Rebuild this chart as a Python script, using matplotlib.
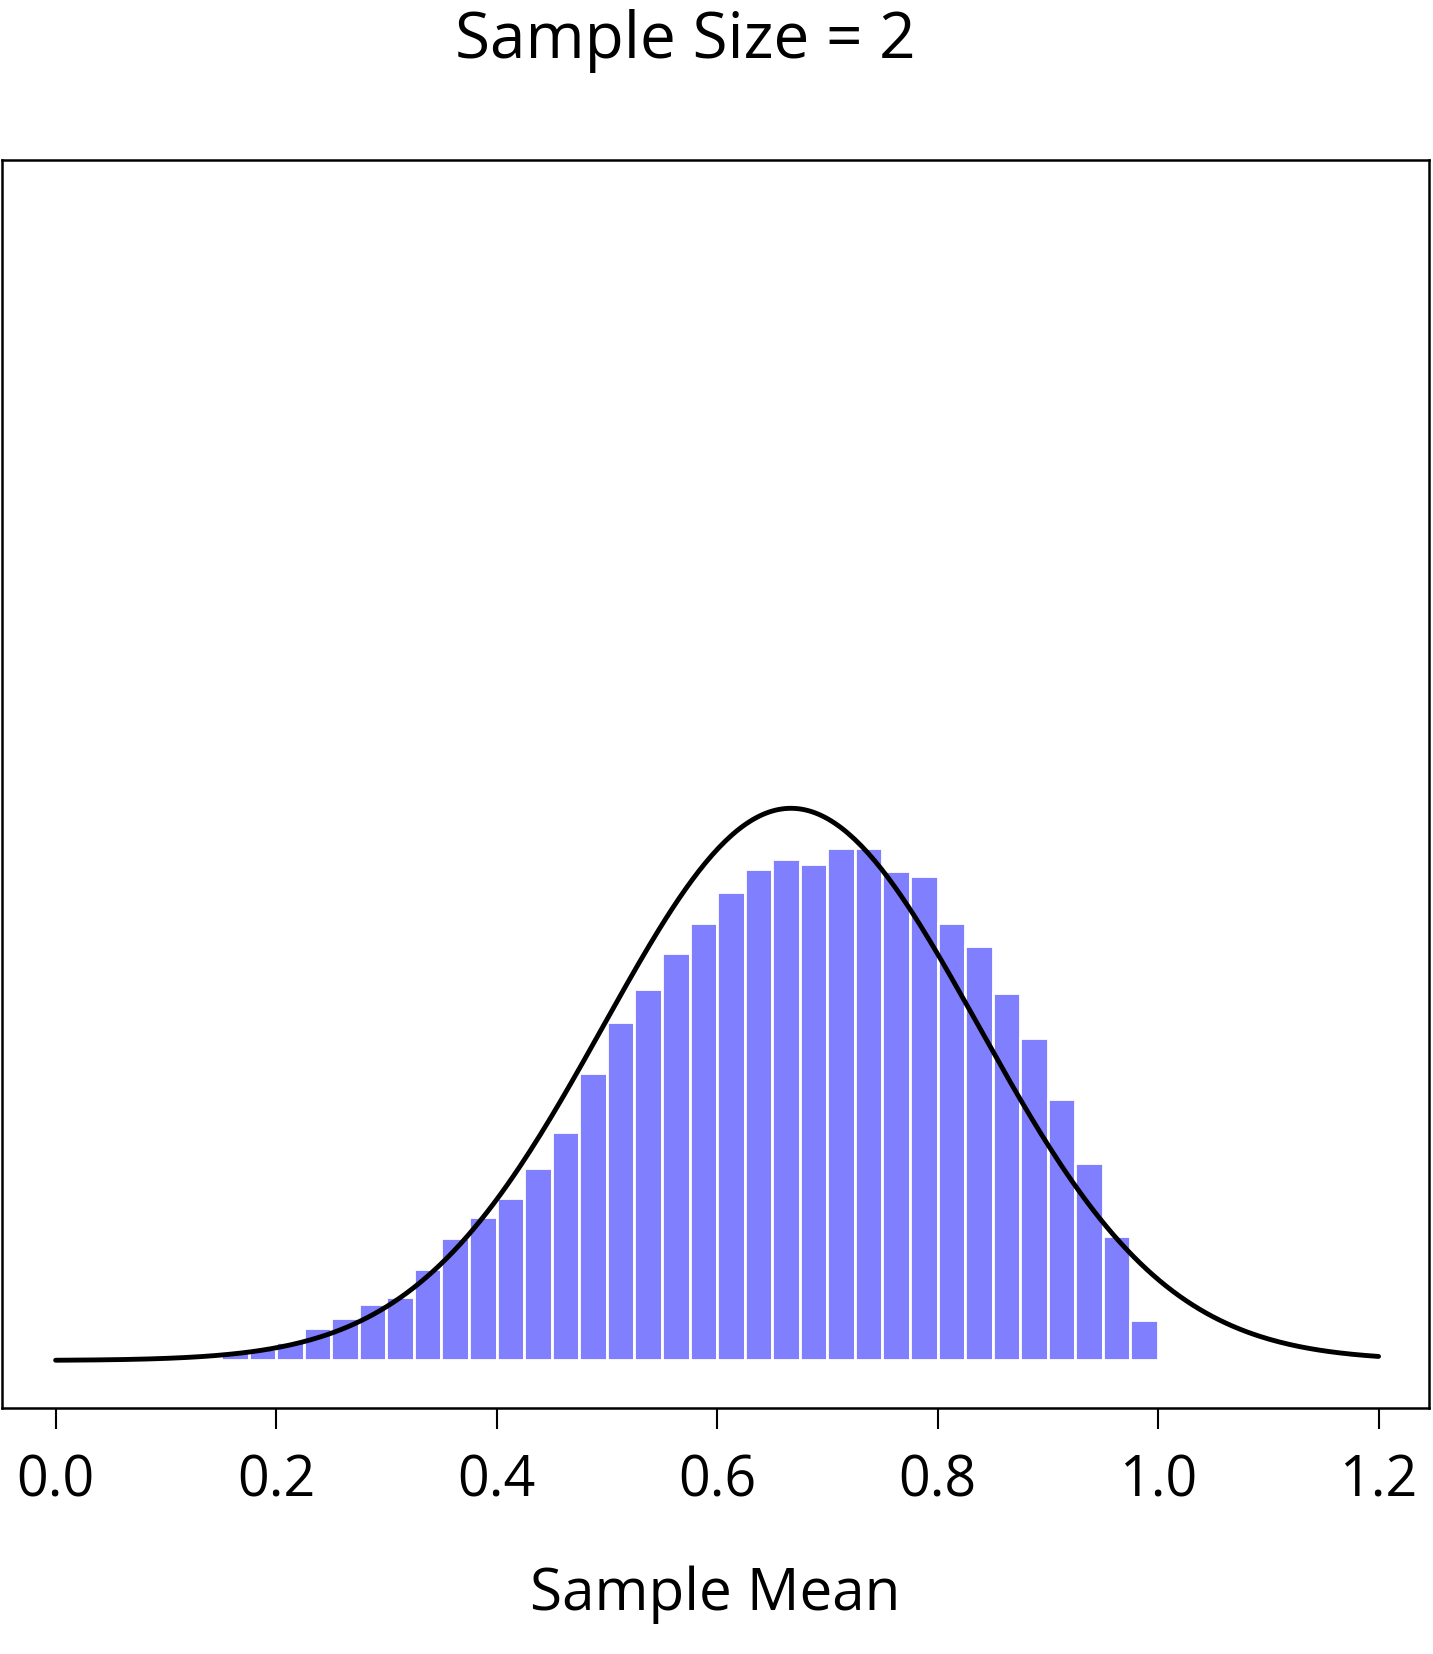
import numpy as np
import matplotlib
matplotlib.use("Agg")
import matplotlib.pyplot as plt

bin_left = np.round(np.arange(0.15, 1.0, 0.025), 3)
density = [0.04,0.05,0.08,0.14,0.18,0.24,0.27,0.39,0.52,0.61,0.69,0.82,0.97,1.22,
           1.44,1.58,1.73,1.86,1.99,2.09,2.13,2.11,2.18,2.18,2.08,2.06,1.86,1.76,
           1.56,1.37,1.11,0.84,0.53,0.17]
curve_mean = 0.667
curve_sd = 0.17
xticks = [0.0, 0.2, 0.4, 0.6, 0.8, 1.0, 1.2]

plt.rcParams['font.family'] = ['Open Sans', 'DejaVu Sans']
fig = plt.figure(figsize=(14.33, 16.54), dpi=100)
ax = fig.add_axes([0.0015, 0.149, 0.9955, 0.754])
ax.bar(bin_left, density, width=0.025, align='edge', color='#8080FF',
       edgecolor='white', linewidth=2)
xs = np.linspace(0, 1.2, 400)
ys = np.exp(-0.5*((xs-curve_mean)/curve_sd)**2)/(curve_sd*np.sqrt(2*np.pi))
ax.plot(xs, ys, color='black', lw=3.5, solid_capstyle='round')
ax.set_xlim(-0.0485, 1.2455)
ax.set_ylim(-0.2, 5.1)
ax.set_yticks([])
ax.set_xticks(xticks)
ax.set_xticklabels([f"{t:.1f}" for t in xticks])
ax.tick_params(axis='x', direction='out', length=15, width=1.5, labelsize=40, pad=18)
for s in ax.spines.values():
    s.set_linewidth(1.8)
ax.set_xlabel("Sample Mean", fontsize=42, labelpad=40)
fig.text(0.478, 0.975, "Sample Size = 2", ha='center', va='center', fontsize=46)
fig.savefig("out.png", dpi=100)
